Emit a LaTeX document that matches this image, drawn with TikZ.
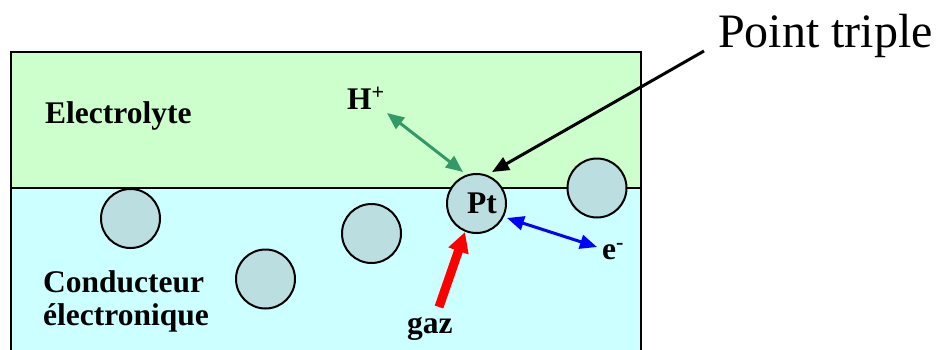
\documentclass[tikz,border=0pt]{standalone}
\usepackage{fontspec}
\setmainfont{Liberation Serif}
\usetikzlibrary{arrows.meta}
\definecolor{elecgreen}{RGB}{204,255,204}
\definecolor{condcyan}{RGB}{204,255,255}
\definecolor{ballfill}{RGB}{187,222,224}
\definecolor{hgreen}{RGB}{51,153,102}
\tikzset{
  ball/.style={circle, draw=black, line width=2pt, fill=ballfill, minimum size=59pt, inner sep=0pt},
  lbl/.style={font=\fontsize{31.5}{34}\selectfont\bfseries, inner sep=0pt, anchor=base west},
  dbl/.style={line width=3pt, {Triangle[length=17pt,width=14pt]}-{Triangle[length=17pt,width=14pt]}},
}
\begin{document}
\begin{tikzpicture}[x=1pt,y=-1pt]
\useasboundingbox (0,0) rectangle (936,349);
\clip (0,0) rectangle (936,349);
% regions
\fill[elecgreen] (11,52) rectangle (641,188);
\fill[condcyan] (11,188) rectangle (641,360);
\draw[line width=2pt] (11,360) -- (11,52) -- (641,52) -- (641,360);
\draw[line width=2pt] (11,188) -- (641,188);
% particles
\node[ball] (b1) at (130.5,218.5) {};
\node[ball] (b2) at (371.5,233.5) {};
\node[ball] (b3) at (265.5,279) {};
\node[ball] (b4) at (597,188) {};
\node[ball] (pt) at (476.5,203.5) {};
\node[lbl] (ptl) at (467,213) {Pt};
% labels
\node[lbl] (el) at (45,123) {Electrolyte};
\node[lbl] (c1) at (43,292) {Conducteur};
\node[lbl] (c2) at (43,325) {électronique};
\node[lbl] (hp) at (347,109) {H\textsuperscript{+}};
\node[lbl] (em) at (602,259) {e\textsuperscript{-}};
\node[lbl] (gaz) at (407,333) {gaz};
\node[font=\fontsize{48}{52}\selectfont, inner sep=0pt, anchor=base west] (tp) at (718,47) {Point triple};
% connector ends
\coordinate (hA) at (387,113);
\coordinate (hB) at (463,172);
\coordinate (eA) at (507,218);
\coordinate (eB) at (597,247);
\coordinate (tA) at (704,51);
\coordinate (tB) at (492,172);
\coordinate (gA) at (439,307);
\coordinate (gB) at (465,232);
% arrows
\draw[dbl, draw=hgreen, fill=hgreen] (hA) -- (hB);
\draw[dbl, draw=blue, fill=blue] (eA) -- (eB);
\draw[line width=3pt, -{Triangle[length=17pt,width=14pt]}] (tA) -- (tB);
\draw[line width=9pt, draw=red, -{Triangle[length=20pt,width=20pt]}] (gA) -- (gB);
\end{tikzpicture}
\end{document}
